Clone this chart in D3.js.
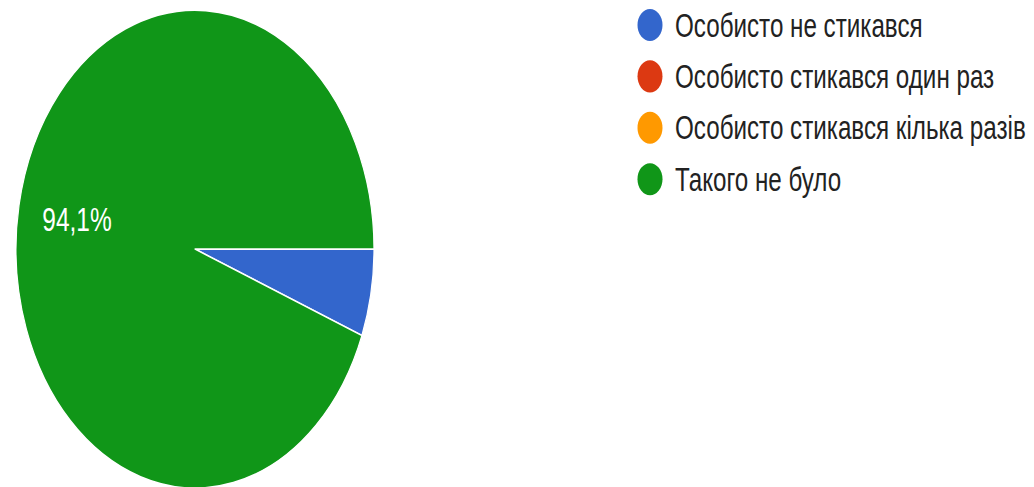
<!DOCTYPE html>
<html><head><meta charset="utf-8">
<script src="https://cdn.jsdelivr.net/npm/d3@7"></script>
<style>body{margin:0;background:#fff}svg{display:block}</style>
</head><body>
<svg id="chart" width="1034" height="487"></svg>
<script>
const categories = ["Особисто не стикався", "Особисто стикався один раз", "Особисто стикався кілька разів", "Такого не було"];
const values = [1, 0, 0, 16];
const colors = ["#3366cc", "#dc3912", "#ff9900", "#109618"];

const W = 1034, H = 487, sy = 1.335;
const svg = d3.select("#chart");
const g = svg.append("g").attr("transform", `scale(1,${sy})`);

const cx = 195, cy = 186.6, R = 179;
const total = d3.sum(values);
const data = categories.map((c, i) => ({cat: c, value: values[i], color: colors[i]}));
const pie = d3.pie().value(d => d.value).sort(null)
  .startAngle(Math.PI / 2).endAngle(Math.PI / 2 + 2 * Math.PI);
const arcs = pie(data).filter(d => d.data.value > 0);
const arc = d3.arc().innerRadius(0).outerRadius(R);
const labelArc = d3.arc().innerRadius(120).outerRadius(120);

const pg = g.append("g").attr("transform", `translate(${cx},${cy})`);
pg.selectAll("path").data(arcs).join("path")
  .attr("d", arc).attr("fill", d => d.data.color)
  .attr("stroke", "#fff").attr("stroke-width", 1.2).attr("stroke-linejoin", "round");

const fmt = v => (v / total * 100).toFixed(1).replace(".", ",") + "%";
pg.selectAll("text").data(arcs.filter(d => d.data.value / total > 0.1)).join("text")
  .attr("transform", d => `translate(${labelArc.centroid(d)})`)
  .attr("text-anchor", "middle").attr("dy", "0.36em")
  .attr("font-family", "Liberation Sans, Arial, sans-serif").attr("font-size", 24.5)
  .attr("fill", "#fff").text(d => fmt(d.data.value));

const y = d3.scalePoint().domain(categories).range([18.7, 134.2]);
const lg = g.append("g");
const items = lg.selectAll("g").data(data).join("g")
  .attr("transform", d => `translate(650,${y(d.cat)})`);
items.append("ellipse").attr("rx", 12.5).attr("ry", 12).attr("fill", d => d.color);
items.append("text").attr("x", 25).attr("dy", "0.36em")
  .attr("font-family", "Liberation Sans, Arial, sans-serif").attr("font-size", 24.2)
  .attr("fill", "#222").text(d => d.cat);
</script>
</body></html>
